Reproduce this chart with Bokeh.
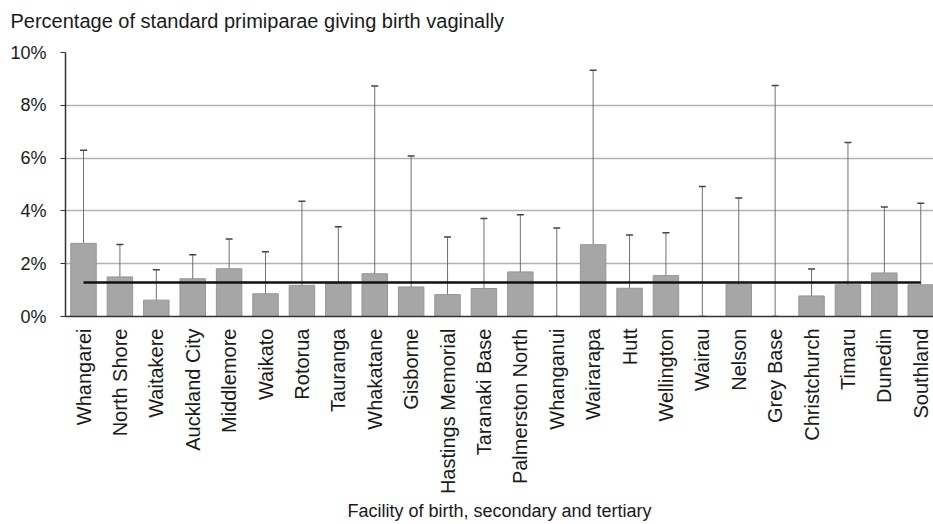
import math
from bokeh.plotting import figure
from bokeh.models import Range1d, FixedTicker, Whisker, TeeHead, ColumnDataSource, Title
from bokeh.embed import file_html
from bokeh.resources import INLINE

facilities = ["Whangarei", "North Shore", "Waitakere", "Auckland City", "Middlemore",
              "Waikato", "Rotorua", "Tauranga", "Whakatane", "Gisborne",
              "Hastings Memorial", "Taranaki Base", "Palmerston North", "Whanganui",
              "Wairarapa", "Hutt", "Wellington", "Wairau", "Nelson", "Grey Base",
              "Christchurch", "Timaru", "Dunedin", "Southland"]
rate = [2.77, 1.50, 0.62, 1.43, 1.81, 0.86, 1.18, 1.25, 1.62, 1.12, 0.83, 1.06,
        1.69, 0.0, 2.72, 1.07, 1.55, 0.0, 1.22, 0.0, 0.78, 1.20, 1.65, 1.20]
ci_lower = [1.18, 0.80, 0.23, 0.84, 1.08, 0.29, 0.31, 0.50, 0.29, 0.18, 0.23, 0.29,
            0.71, 0.0, 0.72, 0.37, 0.74, 0.0, 0.34, 0.0, 0.31, 0.23, 0.65, 0.31]
ci_upper = [6.30, 2.73, 1.77, 2.34, 2.94, 2.45, 4.37, 3.40, 8.73, 6.08, 3.01, 3.71,
            3.85, 3.35, 9.33, 3.09, 3.17, 4.92, 4.49, 8.75, 1.80, 6.59, 4.15, 4.29]
national_rate = 1.29
y_ticks = [0, 2, 4, 6, 8, 10]
y_tick_labels = ["0%", "2%", "4%", "6%", "8%", "10%"]
chart_title = "Percentage of standard primiparae giving birth vaginally"
x_title = "Facility of birth, secondary and tertiary"

idx = list(range(len(facilities)))
src = ColumnDataSource(dict(x=idx, rate=rate, lo=ci_lower, hi=ci_upper))

FONT = "Liberation Sans"

p = figure(width=933, height=524, output_backend="svg", toolbar_location=None,
           x_range=Range1d(-0.495, 23.35), y_range=Range1d(0, 10),
           min_border_left=65, min_border_right=0, min_border_top=52,
           min_border_bottom=200)
p.outline_line_color = None

# spacer (closest to the frame), then the visible chart title above it
spacer = Title(text=" ", text_font_size="1px", standoff=18)
p.add_layout(spacer, "above")
main_title = Title(text=chart_title, text_font=FONT, text_font_size="20px",
                   text_font_style="normal", text_color="#1a1a1a",
                   offset=-55, standoff=0)
p.add_layout(main_title, "above")

p.vbar(x="x", top="rate", width=0.7, source=src, fill_color="#a6a6a6",
       line_color="#969696", line_width=1)

p.line(x=[idx[0], idx[-1]], y=[national_rate, national_rate],
       line_color="#111111", line_width=2.5)

w = Whisker(base="x", lower="lo", upper="hi", source=src,
            line_color="#707070", line_width=1,
            upper_head=TeeHead(size=7, line_color="#444444", line_width=1.5),
            lower_head=TeeHead(size=7, line_color="#444444", line_width=1.5))
p.add_layout(w)

p.xgrid.grid_line_color = None
p.ygrid.grid_line_color = "#b3b3b3"
p.ygrid.grid_line_width = 1.5
p.ygrid.ticker = FixedTicker(ticks=y_ticks)

p.yaxis.ticker = FixedTicker(ticks=y_ticks)
p.yaxis.major_label_overrides = {t: l for t, l in zip(y_ticks, y_tick_labels)}
p.yaxis.axis_line_color = "#333333"
p.yaxis.axis_line_width = 1.5
p.yaxis.major_tick_out = 5
p.yaxis.major_tick_in = 0
p.yaxis.major_tick_line_color = "#333333"
p.yaxis.minor_tick_line_color = None
p.yaxis.major_label_standoff = 14
p.yaxis.major_label_text_font = FONT
p.yaxis.major_label_text_font_size = "18px"
p.yaxis.major_label_text_color = "#1a1a1a"

p.xaxis.ticker = FixedTicker(ticks=idx)
p.xaxis.major_label_overrides = {i: f for i, f in zip(idx, facilities)}
p.xaxis.major_label_orientation = math.pi / 2
p.xaxis.axis_line_color = "#333333"
p.xaxis.axis_line_width = 1.5
p.xaxis.major_tick_out = 0
p.xaxis.major_tick_in = 0
p.xaxis.minor_tick_line_color = None
p.xaxis.major_label_standoff = 12
p.xaxis.major_label_text_font = FONT
p.xaxis.major_label_text_font_size = "20px"
p.xaxis.major_label_text_color = "#1a1a1a"
p.xaxis.axis_label = x_title
p.xaxis.axis_label_text_font = FONT
p.xaxis.axis_label_text_font_size = "18px"
p.xaxis.axis_label_text_font_style = "normal"
p.xaxis.axis_label_text_color = "#1a1a1a"
p.xaxis.axis_label_standoff = 4

open("out.html", "w").write(file_html(p, INLINE))
